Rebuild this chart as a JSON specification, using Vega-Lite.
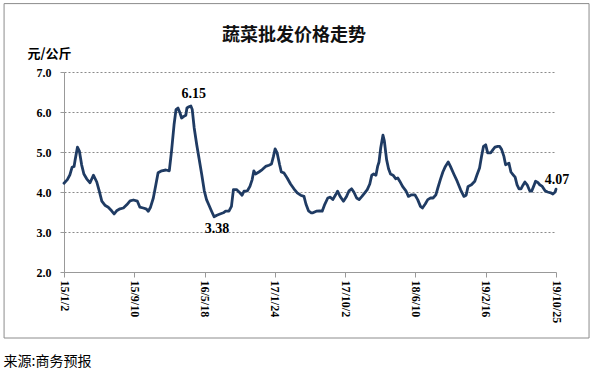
{
  "$schema": "https://vega.github.io/schema/vega-lite/v6.json",
  "autosize": "none",
  "width": 492,
  "height": 200,
  "padding": {"left": 64, "top": 72, "right": 37, "bottom": 97},
  "background": "white",
  "title": {"text": "蔬菜批发价格走势", "font": "Noto Sans CJK SC", "fontSize": 18, "fontWeight": "bold", "color": "#111111", "anchor": "middle", "dx": -16, "offset": -42},
  "config": {"view": {"stroke": null}},
  "data": {"values": [
    {"d": "2015-01-02", "v": 4.22}, {"d": "2015-01-14", "v": 4.31}, {"d": "2015-01-23", "v": 4.43}, {"d": "2015-01-31", "v": 4.62},
    {"d": "2015-02-07", "v": 4.64}, {"d": "2015-02-11", "v": 4.81}, {"d": "2015-02-19", "v": 5.12}, {"d": "2015-02-26", "v": 5.02},
    {"d": "2015-03-06", "v": 4.68}, {"d": "2015-03-14", "v": 4.45}, {"d": "2015-03-24", "v": 4.33}, {"d": "2015-04-05", "v": 4.23},
    {"d": "2015-04-17", "v": 4.42}, {"d": "2015-04-29", "v": 4.25}, {"d": "2015-05-08", "v": 4.02}, {"d": "2015-05-17", "v": 3.77},
    {"d": "2015-05-28", "v": 3.67}, {"d": "2015-06-09", "v": 3.62}, {"d": "2015-06-21", "v": 3.53}, {"d": "2015-06-30", "v": 3.45},
    {"d": "2015-07-09", "v": 3.53}, {"d": "2015-07-21", "v": 3.58}, {"d": "2015-08-02", "v": 3.60}, {"d": "2015-08-14", "v": 3.68},
    {"d": "2015-08-26", "v": 3.78}, {"d": "2015-09-07", "v": 3.80}, {"d": "2015-09-21", "v": 3.77}, {"d": "2015-09-30", "v": 3.62},
    {"d": "2015-10-12", "v": 3.60}, {"d": "2015-10-22", "v": 3.58}, {"d": "2015-10-30", "v": 3.52}, {"d": "2015-11-07", "v": 3.62},
    {"d": "2015-11-17", "v": 3.85}, {"d": "2015-11-26", "v": 4.18}, {"d": "2015-12-04", "v": 4.48}, {"d": "2015-12-17", "v": 4.53},
    {"d": "2016-01-01", "v": 4.55}, {"d": "2016-01-13", "v": 4.53}, {"d": "2016-01-21", "v": 5.02}, {"d": "2016-01-30", "v": 5.68},
    {"d": "2016-02-06", "v": 6.06}, {"d": "2016-02-13", "v": 6.10}, {"d": "2016-02-20", "v": 5.98}, {"d": "2016-02-26", "v": 5.85},
    {"d": "2016-03-05", "v": 5.89}, {"d": "2016-03-12", "v": 5.92}, {"d": "2016-03-16", "v": 6.10}, {"d": "2016-03-23", "v": 6.13},
    {"d": "2016-03-30", "v": 6.15}, {"d": "2016-04-04", "v": 6.06}, {"d": "2016-04-11", "v": 5.60}, {"d": "2016-04-20", "v": 5.18},
    {"d": "2016-04-28", "v": 4.85}, {"d": "2016-05-08", "v": 4.43}, {"d": "2016-05-17", "v": 4.03}, {"d": "2016-05-25", "v": 3.81},
    {"d": "2016-06-02", "v": 3.68}, {"d": "2016-06-12", "v": 3.52}, {"d": "2016-06-21", "v": 3.38}, {"d": "2016-07-01", "v": 3.42},
    {"d": "2016-07-12", "v": 3.45}, {"d": "2016-07-24", "v": 3.48}, {"d": "2016-08-01", "v": 3.52}, {"d": "2016-08-13", "v": 3.52},
    {"d": "2016-08-22", "v": 3.64}, {"d": "2016-08-29", "v": 4.06}, {"d": "2016-09-09", "v": 4.06}, {"d": "2016-09-21", "v": 3.98},
    {"d": "2016-09-29", "v": 3.92}, {"d": "2016-10-06", "v": 4.02}, {"d": "2016-10-18", "v": 4.03}, {"d": "2016-10-27", "v": 4.14},
    {"d": "2016-11-04", "v": 4.31}, {"d": "2016-11-10", "v": 4.53}, {"d": "2016-11-16", "v": 4.45}, {"d": "2016-11-28", "v": 4.50},
    {"d": "2016-12-10", "v": 4.56}, {"d": "2016-12-22", "v": 4.64}, {"d": "2017-01-03", "v": 4.67}, {"d": "2017-01-12", "v": 4.70},
    {"d": "2017-01-19", "v": 4.89}, {"d": "2017-01-25", "v": 5.08}, {"d": "2017-02-01", "v": 4.98}, {"d": "2017-02-10", "v": 4.68},
    {"d": "2017-02-16", "v": 4.50}, {"d": "2017-02-25", "v": 4.48}, {"d": "2017-03-09", "v": 4.35}, {"d": "2017-03-21", "v": 4.20},
    {"d": "2017-04-02", "v": 4.08}, {"d": "2017-04-14", "v": 3.98}, {"d": "2017-04-26", "v": 3.92}, {"d": "2017-05-08", "v": 3.89},
    {"d": "2017-05-15", "v": 3.70}, {"d": "2017-05-24", "v": 3.53}, {"d": "2017-06-03", "v": 3.48}, {"d": "2017-06-09", "v": 3.48},
    {"d": "2017-06-21", "v": 3.52}, {"d": "2017-07-03", "v": 3.53}, {"d": "2017-07-12", "v": 3.52}, {"d": "2017-07-20", "v": 3.67},
    {"d": "2017-08-01", "v": 3.85}, {"d": "2017-08-10", "v": 3.87}, {"d": "2017-08-19", "v": 3.81}, {"d": "2017-08-29", "v": 3.93},
    {"d": "2017-09-05", "v": 4.02}, {"d": "2017-09-14", "v": 3.89}, {"d": "2017-09-26", "v": 3.77}, {"d": "2017-10-07", "v": 3.89},
    {"d": "2017-10-16", "v": 4.03}, {"d": "2017-10-25", "v": 4.08}, {"d": "2017-11-02", "v": 4.00}, {"d": "2017-11-12", "v": 3.85},
    {"d": "2017-11-21", "v": 3.81}, {"d": "2017-12-01", "v": 3.89}, {"d": "2017-12-11", "v": 3.98}, {"d": "2017-12-20", "v": 4.06},
    {"d": "2017-12-29", "v": 4.20}, {"d": "2018-01-05", "v": 4.42}, {"d": "2018-01-12", "v": 4.45}, {"d": "2018-01-20", "v": 4.42},
    {"d": "2018-01-26", "v": 4.64}, {"d": "2018-01-31", "v": 4.75}, {"d": "2018-02-06", "v": 5.10}, {"d": "2018-02-14", "v": 5.42},
    {"d": "2018-02-19", "v": 5.28}, {"d": "2018-02-27", "v": 4.81}, {"d": "2018-03-06", "v": 4.58}, {"d": "2018-03-13", "v": 4.45},
    {"d": "2018-03-22", "v": 4.42}, {"d": "2018-04-01", "v": 4.33}, {"d": "2018-04-08", "v": 4.35}, {"d": "2018-04-15", "v": 4.27},
    {"d": "2018-04-25", "v": 4.14}, {"d": "2018-05-07", "v": 4.03}, {"d": "2018-05-16", "v": 3.89}, {"d": "2018-05-27", "v": 3.93},
    {"d": "2018-06-08", "v": 3.93}, {"d": "2018-06-18", "v": 3.81}, {"d": "2018-06-28", "v": 3.64}, {"d": "2018-07-05", "v": 3.60},
    {"d": "2018-07-15", "v": 3.70}, {"d": "2018-07-24", "v": 3.81}, {"d": "2018-08-03", "v": 3.85}, {"d": "2018-08-12", "v": 3.85},
    {"d": "2018-08-22", "v": 3.93}, {"d": "2018-08-29", "v": 4.10}, {"d": "2018-09-07", "v": 4.31}, {"d": "2018-09-16", "v": 4.50},
    {"d": "2018-09-25", "v": 4.64}, {"d": "2018-10-05", "v": 4.75}, {"d": "2018-10-13", "v": 4.64}, {"d": "2018-10-25", "v": 4.45},
    {"d": "2018-11-06", "v": 4.27}, {"d": "2018-11-18", "v": 4.06}, {"d": "2018-11-30", "v": 3.89}, {"d": "2018-12-08", "v": 3.92},
    {"d": "2018-12-15", "v": 4.14}, {"d": "2018-12-27", "v": 4.18}, {"d": "2019-01-08", "v": 4.27}, {"d": "2019-01-16", "v": 4.43},
    {"d": "2019-01-25", "v": 4.60}, {"d": "2019-02-01", "v": 4.89}, {"d": "2019-02-08", "v": 5.14}, {"d": "2019-02-16", "v": 5.18},
    {"d": "2019-02-23", "v": 4.98}, {"d": "2019-03-06", "v": 4.98}, {"d": "2019-03-14", "v": 5.06}, {"d": "2019-03-21", "v": 5.12},
    {"d": "2019-03-31", "v": 5.14}, {"d": "2019-04-07", "v": 5.14}, {"d": "2019-04-14", "v": 5.06}, {"d": "2019-04-22", "v": 4.89},
    {"d": "2019-04-28", "v": 4.68}, {"d": "2019-05-04", "v": 4.70}, {"d": "2019-05-10", "v": 4.72}, {"d": "2019-05-17", "v": 4.50},
    {"d": "2019-05-25", "v": 4.43}, {"d": "2019-06-01", "v": 4.37}, {"d": "2019-06-08", "v": 4.18}, {"d": "2019-06-15", "v": 4.08},
    {"d": "2019-06-22", "v": 4.08}, {"d": "2019-06-29", "v": 4.17}, {"d": "2019-07-06", "v": 4.25}, {"d": "2019-07-14", "v": 4.18},
    {"d": "2019-07-23", "v": 4.03}, {"d": "2019-07-30", "v": 4.02}, {"d": "2019-08-06", "v": 4.14}, {"d": "2019-08-13", "v": 4.27},
    {"d": "2019-08-21", "v": 4.24}, {"d": "2019-08-28", "v": 4.18}, {"d": "2019-09-06", "v": 4.14}, {"d": "2019-09-16", "v": 4.03},
    {"d": "2019-09-25", "v": 4.00}, {"d": "2019-10-06", "v": 3.98}, {"d": "2019-10-14", "v": 3.95}, {"d": "2019-10-22", "v": 4.00},
    {"d": "2019-10-25", "v": 4.07}
  ]},
  "layer": [
    {
      "mark": {"type": "line", "color": "#1F3B63", "strokeWidth": 2.8, "strokeJoin": "round", "strokeCap": "round"},
      "encoding": {
        "x": {
          "field": "d", "type": "temporal",
          "scale": {"type": "utc", "domain": [{"year": 2015, "month": 1, "date": 2, "utc": true}, {"year": 2019, "month": 10, "date": 25, "utc": true}]},
          "axis": {
            "values": [
              {"year": 2015, "month": 1, "date": 2, "utc": true},
              {"year": 2015, "month": 9, "date": 10, "utc": true},
              {"year": 2016, "month": 5, "date": 18, "utc": true},
              {"year": 2017, "month": 1, "date": 24, "utc": true},
              {"year": 2017, "month": 10, "date": 2, "utc": true},
              {"year": 2018, "month": 6, "date": 10, "utc": true},
              {"year": 2019, "month": 2, "date": 16, "utc": true},
              {"year": 2019, "month": 10, "date": 25, "utc": true}
            ],
            "tickCount": 20,
            "labelExpr": "utcFormat(datum.value, '%y/%-m/%-d')",
            "labelAngle": 90, "labelAlign": "left", "labelBaseline": "middle",
            "labelFont": "Liberation Serif", "labelFontWeight": "bold", "labelFontSize": 12, "labelColor": "#000000",
            "labelPadding": 3, "labelOverlap": false, "labelFlush": false,
            "grid": false, "domainColor": "#999999", "tickColor": "#999999", "tickSize": 5,
            "title": "来源:商务预报", "titleFont": "Noto Sans CJK SC", "titleFontSize": 14, "titleFontWeight": "normal",
            "titleColor": "#000000", "titleX": -61, "titleY": 89, "titleAlign": "left", "titleBaseline": "middle", "titleAnchor": "start"
          }
        },
        "y": {
          "field": "v", "type": "quantitative",
          "scale": {"domain": [2, 7], "nice": false, "zero": false},
          "axis": {
            "values": [2, 3, 4, 5, 6, 7], "tickCount": 20, "format": ".1f", "labelOverlap": false,
            "labelFont": "Liberation Serif", "labelFontWeight": "bold", "labelFontSize": 12, "labelColor": "#000000", "labelPadding": 9,
            "grid": true, "gridColor": "#8a8a8a", "gridDash": [2, 2], "gridWidth": 1,
            "domainColor": "#999999", "tickColor": "#999999", "tickSize": 4,
            "title": "元/公斤", "titleAngle": 0, "titleX": -37, "titleY": -19, "titleAlign": "left", "titleBaseline": "middle",
            "titleFont": "Noto Sans CJK SC", "titleFontSize": 13, "titleFontWeight": "bold", "titleColor": "#000000"
          }
        }
      }
    },
    {
      "data": {"values": [{"d": "2016-03-30", "v": 6.15, "t": "6.15"}]},
      "mark": {"type": "text", "font": "Liberation Serif", "fontWeight": "bold", "fontSize": 14, "color": "#000000", "align": "center", "baseline": "bottom", "dx": 3, "dy": -5},
      "encoding": {"x": {"field": "d", "type": "temporal"}, "y": {"field": "v", "type": "quantitative"}, "text": {"field": "t"}}
    },
    {
      "data": {"values": [{"d": "2016-06-21", "v": 3.38, "t": "3.38"}]},
      "mark": {"type": "text", "font": "Liberation Serif", "fontWeight": "bold", "fontSize": 14, "color": "#000000", "align": "center", "baseline": "top", "dx": 3, "dy": 5},
      "encoding": {"x": {"field": "d", "type": "temporal"}, "y": {"field": "v", "type": "quantitative"}, "text": {"field": "t"}}
    },
    {
      "data": {"values": [{"d": "2019-10-25", "v": 4.07, "t": "4.07"}]},
      "mark": {"type": "text", "font": "Liberation Serif", "fontWeight": "bold", "fontSize": 14, "color": "#000000", "align": "center", "baseline": "bottom", "dx": 1, "dy": -2},
      "encoding": {"x": {"field": "d", "type": "temporal"}, "y": {"field": "v", "type": "quantitative"}, "text": {"field": "t"}}
    },
    {
      "data": {"values": [{}]},
      "mark": {"type": "rect", "filled": false, "color": "#8c8c8c", "strokeWidth": 1, "clip": false},
      "encoding": {
        "x": {"datum": {"year": 2014, "month": 6, "date": 2, "utc": true}, "type": "temporal"},
        "x2": {"datum": {"year": 2020, "month": 2, "date": 20, "utc": true}},
        "y": {"datum": 8.71, "type": "quantitative"},
        "y2": {"datum": 0.35}
      }
    }
  ]
}
